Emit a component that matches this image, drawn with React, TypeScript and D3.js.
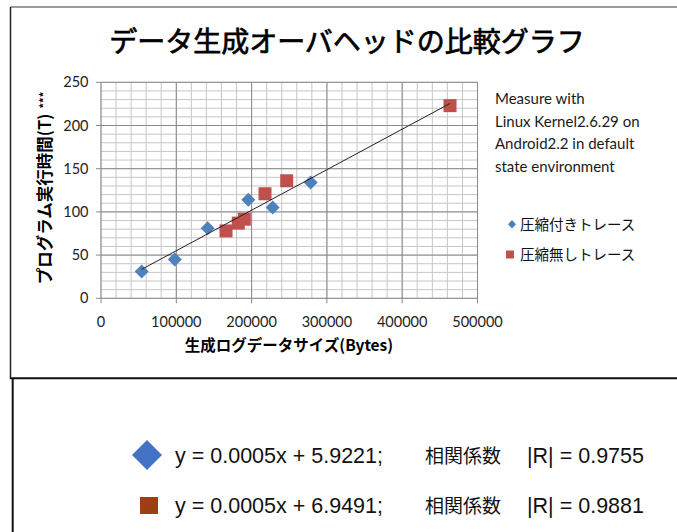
import React from "react";
import * as d3 from "d3";

const xTicks = [0, 100000, 200000, 300000, 400000, 500000];
const yTicks = [0, 50, 100, 150, 200, 250];

const compressedX = [54000, 98000, 141700, 195600, 228000, 278500];
const compressedY = [31, 45, 81, 114, 105, 134];

const uncompressedX = [166000, 182300, 190300, 217800, 246600, 463500];
const uncompressedY = [78, 87, 91.5, 121, 136, 223];

const trendX = [54000, 463500];
const trendY = [33.5, 225.5];

const title = "データ生成オーバヘッドの比較グラフ";
const xTitle = "生成ログデータサイズ(Bytes)";
const yTitle = "プログラム実行時間(T)";
const noteLines = ["Measure with", "Linux Kernel2.6.29 on", "Android2.2 in default", "state environment"];
const legendNames = ["圧縮付きトレース", "圧縮無しトレース"];
const equations = ["y = 0.0005x + 5.9221;", "y = 0.0005x + 6.9491;"];
const corrLabel = "相関係数";
const corrValues = ["|R| = 0.9755", "|R| = 0.9881"];

const BLUE = "#4F81BD";
const RED = "#C0504D";
const latin = "Lato, 'Open Sans', sans-serif";
const jp = "'Noto Sans CJK JP', sans-serif";

export default function App() {
  const x = d3.scaleLinear().domain([0, 500000]).range([101, 477.5]);
  const y = d3.scaleLinear().domain([0, 250]).range([298.3, 82.3]);
  const minorX = d3.range(0, 500001, 20000);
  const minorY = d3.range(0, 251, 10);
  const line = d3.line<number>().x((_, i) => x(trendX[i])).y((d) => y(d));

  return (
    <svg width={677} height={532} style={{ position: "absolute", left: 0, top: 0, background: "#fff" }}>
      {/* frames */}
      <line x1={10.5} y1={7} x2={677} y2={7} stroke="#777" strokeWidth={1.5} />
      <line x1={10.5} y1={7} x2={10.5} y2={379} stroke="#222" strokeWidth={1.5} />
      <line x1={10} y1={378.3} x2={677} y2={378.3} stroke="#111" strokeWidth={2} />
      <line x1={12.7} y1={378} x2={12.7} y2={532} stroke="#111" strokeWidth={2} />

      <text x={347} y={52} textAnchor="middle" fontFamily={jp} fontWeight={400} fontSize={28} fill="#000" stroke="#000" strokeWidth={0.7}>{title}</text>

      {/* minor grid */}
      {minorX.map((v) => (
        <line key={"mx" + v} x1={x(v)} x2={x(v)} y1={y(250)} y2={y(0)} stroke="#c6c6c6" strokeWidth={1} />
      ))}
      {minorY.map((v) => (
        <line key={"my" + v} x1={x(0)} x2={x(500000)} y1={y(v)} y2={y(v)} stroke="#c6c6c6" strokeWidth={1} />
      ))}
      {/* major grid */}
      {xTicks.map((v) => (
        <line key={"gx" + v} x1={x(v)} x2={x(v)} y1={y(250)} y2={y(0) + 5} stroke="#8a8a8a" strokeWidth={1} />
      ))}
      {yTicks.map((v) => (
        <line key={"gy" + v} x1={x(0) - 5} x2={x(500000)} y1={y(v)} y2={y(v)} stroke="#8a8a8a" strokeWidth={1} />
      ))}

      {yTicks.map((v) => (
        <text key={"yl" + v} x={88.5} y={y(v) + 5} textAnchor="end" fontFamily={latin} fontSize={14.5} fill="#222">{v}</text>
      ))}
      {xTicks.map((v) => (
        <text key={"xl" + v} x={x(v)} y={327} textAnchor="middle" fontFamily={latin} fontSize={14.5} fill="#222">{v}</text>
      ))}

      <text x={289} y={351} textAnchor="middle" fontFamily={jp} fontWeight={700} fontSize={15.5} fill="#000">{xTitle}</text>
      <g transform="translate(51,188) rotate(-90)">
        <text x={0} y={0} textAnchor="middle" fontFamily={jp} fontWeight={700} fontSize={16.5} fill="#000">
          {yTitle}
          <tspan fontSize={11} dx={5} dy={-3}>***</tspan>
        </text>
      </g>

      {/* markers */}
      {compressedX.map((v, i) => {
        const cx = x(v), cy = y(compressedY[i]);
        return <path key={"b" + i} d={`M${cx},${cy - 7}L${cx + 7},${cy}L${cx},${cy + 7}L${cx - 7},${cy}Z`} fill={BLUE} />;
      })}
      {uncompressedX.map((v, i) => {
        const cx = x(v), cy = y(uncompressedY[i]);
        return <rect key={"r" + i} x={cx - 6.5} y={cy - 6.5} width={13} height={13} fill={RED} />;
      })}
      <path d={line(trendY) || ""} fill="none" stroke="#222" strokeWidth={1} />

      {noteLines.map((t, i) => (
        <text key={"n" + i} x={495} y={104 + i * 22.7} fontFamily={latin} fontSize={15} fill="#1a1a1a">{t}</text>
      ))}

      {/* legend */}
      <path d="M512,220 L516,224.3 L512,228.6 L508,224.3 Z" fill={BLUE} />
      <text x={520} y={229.5} fontFamily={jp} fontSize={14.5} fill="#111">{legendNames[0]}</text>
      <rect x={506} y={250.5} width={8} height={8} fill={RED} />
      <text x={520} y={260} fontFamily={jp} fontSize={14.5} fill="#111">{legendNames[1]}</text>

      {/* bottom box */}
      <path d="M147,440 L162,455 L147,470 L132,455 Z" fill="#4472C4" />
      <rect x={140} y={497} width={18} height={17} fill="#9E3E16" />
      {equations.map((t, i) => (
        <g key={"eq" + i} fontFamily="'Liberation Sans', Arial, sans-serif" fontSize={21.5} fill="#111">
          <text x={175} y={463 + i * 50}>{t}</text>
          <text x={425} y={463 + i * 50} fontFamily={jp} fontSize={19}>{corrLabel}</text>
          <text x={527} y={463 + i * 50}>{corrValues[i]}</text>
        </g>
      ))}
    </svg>
  );
}
